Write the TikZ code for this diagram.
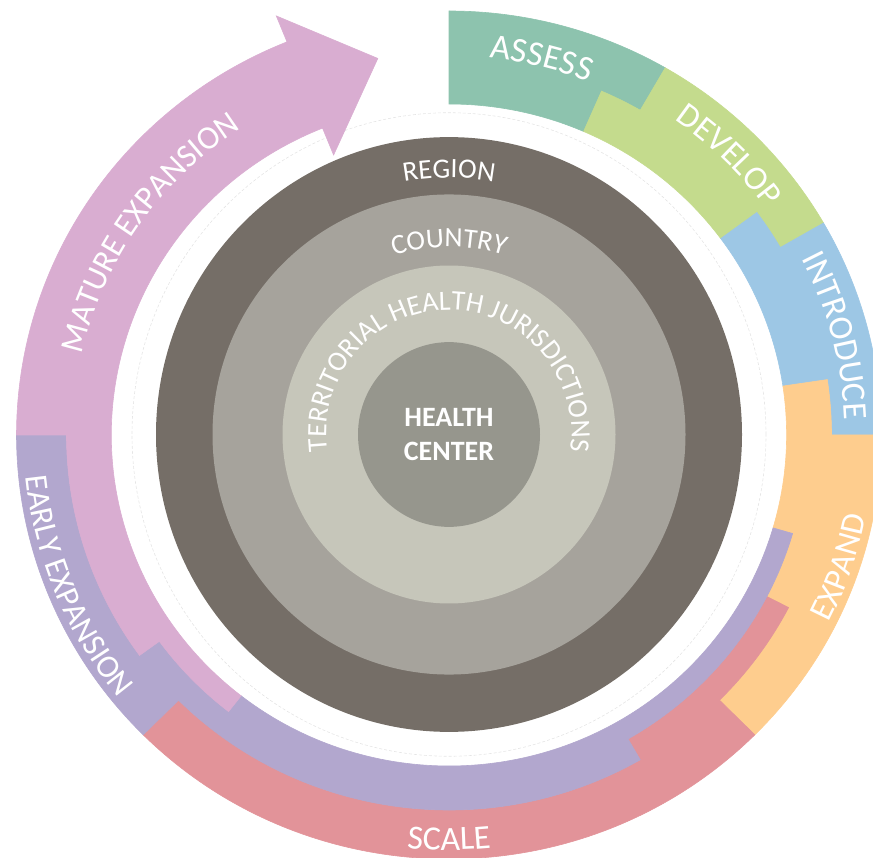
\documentclass[tikz,border=0pt]{standalone}
\usepackage{fontspec}
\setmainfont{Carlito}
\usetikzlibrary{decorations.text}
\definecolor{cAssess}{RGB}{141,195,174}
\definecolor{cDevelop}{RGB}{196,219,141}
\definecolor{cIntro}{RGB}{157,199,229}
\definecolor{cExpand}{RGB}{254,205,142}
\definecolor{cScale}{RGB}{226,147,153}
\definecolor{cEarly}{RGB}{178,167,206}
\definecolor{cMature}{RGB}{217,173,209}
\definecolor{cRegion}{RGB}{117,110,103}
\definecolor{cCountry}{RGB}{166,163,156}
\definecolor{cTerr}{RGB}{198,198,186}
\definecolor{cHC}{RGB}{150,150,141}
\tikzset{
  seg/.style={fill=#1, draw=#1, line width=0.6pt},
  arctext/.style 2 args={decorate, decoration={text along path, text align=center,
      text={|\color{white}\fontsize{#1}{#1}\selectfont|#2}}}
}
\begin{document}
\begin{tikzpicture}[x=1pt,y=1pt]
\useasboundingbox (0,0) rectangle (873,-858);
\clip (0,0) rectangle (873,-858);
\def\RA{331}\def\RB{351}\def\RC{375}\def\RD{424}
% inner circles
\begin{scope}[shift={(449,-434.5)}, yscale=1.015]
  \draw[black!10, line width=0.6pt, dash pattern=on 3pt off 2pt] (0,0) circle[radius=317];
  \fill[cRegion] (0,0) circle[radius=293];
  \fill[cCountry] (0,0) circle[radius=236.5];
  \fill[cTerr] (0,0) circle[radius=166.5];
  \fill[cHC] (0,0) circle[radius=91];
\end{scope}
% outer ring
\begin{scope}[shift={(449,-435)}, xscale=1.02]
  % ASSESS
  \path[seg=cAssess] (90:\RA) -- (90:\RD) arc[start angle=90,end angle=60,radius=\RD]
    -- (60:\RC) arc[start angle=60,end angle=66.5,radius=\RC]
    -- (66.5:\RA) arc[start angle=66.5,end angle=90,radius=\RA] -- cycle;
  % DEVELOP
  \path[seg=cDevelop] (66.5:\RA) -- (66.5:\RC) arc[start angle=66.5,end angle=60,radius=\RC]
    -- (60:\RD) arc[start angle=60,end angle=30,radius=\RD]
    -- (30:\RC) arc[start angle=30,end angle=36.4,radius=\RC]
    -- (36.4:\RA) arc[start angle=36.4,end angle=66.5,radius=\RA] -- cycle;
  % INTRODUCE
  \path[seg=cIntro] (36.4:\RA) -- (36.4:\RC) arc[start angle=36.4,end angle=30,radius=\RC]
    -- (30:\RD) arc[start angle=30,end angle=0,radius=\RD]
    -- (0:\RC) arc[start angle=0,end angle=8.5,radius=\RC]
    -- (8.5:\RA) arc[start angle=8.5,end angle=36.4,radius=\RA] -- cycle;
  % EXPAND
  \path[seg=cExpand] (8.5:\RA) -- (8.5:\RC) arc[start angle=8.5,end angle=0,radius=\RC]
    -- (0:\RD) arc[start angle=0,end angle=-45,radius=\RD]
    -- (-45:\RC) arc[start angle=-45,end angle=-27.4,radius=\RC]
    -- (-27.4:\RB) arc[start angle=-27.4,end angle=-16.3,radius=\RB]
    -- (-16.3:\RA) arc[start angle=-16.3,end angle=8.5,radius=\RA] -- cycle;
  % SCALE
  \path[seg=cScale] (-27.4:\RB) -- (-27.4:\RC) arc[start angle=-27.4,end angle=-45,radius=\RC]
    -- (-45:\RD) arc[start angle=-45,end angle=-135,radius=\RD]
    -- (-135:\RC) arc[start angle=-135,end angle=-60,radius=\RC]
    -- (-60:\RB) arc[start angle=-60,end angle=-27.4,radius=\RB] -- cycle;
  % EARLY EXPANSION
  \path[seg=cEarly] (-16.3:\RA) -- (-16.3:\RB) arc[start angle=-16.3,end angle=-60,radius=\RB]
    -- (-60:\RC) arc[start angle=-60,end angle=-135,radius=\RC]
    -- (-135:\RD) arc[start angle=-135,end angle=-180,radius=\RD]
    -- (-180:\RC) arc[start angle=-180,end angle=-144,radius=\RC]
    -- (-144:\RB) arc[start angle=-144,end angle=-128,radius=\RB]
    -- (-128:\RA) arc[start angle=-128,end angle=-16.3,radius=\RA] -- cycle;
  % MATURE EXPANSION (arrow)
  \path[seg=cMature] (232:\RA) -- (232:\RB) arc[start angle=232,end angle=216,radius=\RB]
    -- (216:\RC) arc[start angle=216,end angle=180,radius=\RC]
    -- (180:\RD) arc[start angle=180,end angle=112,radius=\RD]
    -- (112:452) -- (100.5:383) -- (112:302)
    -- (112:\RA) arc[start angle=112,end angle=232,radius=\RA] -- cycle;
\end{scope}
% outer labels
\begin{scope}[shift={(449,-435)}]
  \path[arctext={35}{ASSESS}] (116.3:386.6 and 379) arc[start angle=116.3,end angle=36.3,x radius=386.6,y radius=379];
  \path[arctext={34}{DEVELOP}] (85.3:392.7 and 385) arc[start angle=85.3,end angle=5.3,x radius=392.7,y radius=385];
  \path[arctext={34.5}{INTRODUCE}] (54.5:395.8 and 388) arc[start angle=54.5,end angle=-25.5,x radius=395.8,y radius=388];
  \path[arctext={33.5}{EXPAND}] (-58.9:425.3 and 417) arc[start angle=-58.9,end angle=21.1,x radius=425.3,y radius=417];
  \path[arctext={34}{SCALE}] (-130:423.3 and 415) arc[start angle=-130,end angle=-50,x radius=423.3,y radius=415];
  \path[arctext={32.5}{EARLY EXPANSION}] (152.2:425.3 and 417) arc[start angle=152.2,end angle=252.2,x radius=425.3,y radius=417];
  \path[arctext={33}{MATURE EXPANSION}] (195.7:376.4 and 368) arc[start angle=195.7,end angle=95.7,x radius=376.4,y radius=368];
\end{scope}
% inner labels
\begin{scope}[shift={(449,-434.5)}]
  \path[arctext={28}{REGION}] (150:252.7 and 256.5) arc[start angle=150,end angle=30,x radius=252.7,y radius=256.5];
  \path[arctext={28}{COUNTRY}] (150:184.7 and 187.5) arc[start angle=150,end angle=30,x radius=184.7,y radius=187.5];
  \path[arctext={28}{TERRITORIAL HEALTH JURISDICTIONS}] (240:122.7 and 124.5) arc[start angle=240,end angle=-60,x radius=122.7,y radius=124.5];
\end{scope}
\node[align=center, text=white, font=\bfseries\fontsize{28}{34}\selectfont, inner sep=0pt] (hc) at (449,-435) {HEALTH\\CENTER};
\end{tikzpicture}
\end{document}
